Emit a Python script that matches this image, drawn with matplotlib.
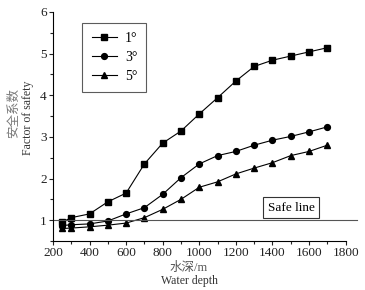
import matplotlib.pyplot as plt
from matplotlib.ticker import MultipleLocator

plt.rcParams['font.family'] = ['Liberation Serif', 'Noto Sans CJK SC']

depth = [250, 300, 400, 500, 600, 700, 800, 900, 1000, 1100, 1200, 1300, 1400, 1500, 1600, 1700]
fs_1 = [0.95, 1.06, 1.15, 1.44, 1.65, 2.35, 2.85, 3.14, 3.55, 3.94, 4.34, 4.69, 4.84, 4.94, 5.04, 5.14]
fs_3 = [0.87, 0.89, 0.91, 0.98, 1.15, 1.30, 1.62, 2.02, 2.35, 2.55, 2.65, 2.80, 2.92, 3.01, 3.12, 3.24]
fs_5 = [0.80, 0.81, 0.84, 0.88, 0.93, 1.06, 1.26, 1.50, 1.79, 1.92, 2.11, 2.25, 2.38, 2.55, 2.65, 2.80]
labels = ['1°', '3°', '5°']
safe_value = 1.0

fig = plt.figure(figsize=(3.65, 2.9), dpi=100)
ax = fig.add_axes([0.145, 0.169, 0.802, 0.79])

ax.plot(depth, fs_1, '-s', color='black', lw=0.8, ms=4.2, label=labels[0])
ax.plot(depth, fs_3, '-o', color='black', lw=0.8, ms=4.2, label=labels[1])
ax.plot(depth, fs_5, '-^', color='black', lw=0.8, ms=4.5, label=labels[2])
ax.plot([200, 1860], [safe_value, safe_value], color='#555555', lw=0.8, clip_on=False)

ax.text(1503, 1.30, 'Safe line', ha='center', va='center', fontsize=9.5,
        bbox=dict(boxstyle='square,pad=0.35', fc='white', ec='#333333', lw=0.8))

ax.set_xlim(200, 1800)
ax.set_ylim(0.5, 6)
ax.xaxis.set_major_locator(MultipleLocator(200))
ax.xaxis.set_minor_locator(MultipleLocator(100))
ax.yaxis.set_major_locator(MultipleLocator(1))
ax.yaxis.set_minor_locator(MultipleLocator(0.5))
ax.tick_params(which='major', length=3, width=0.8, labelsize=9.5, pad=1.5, colors='#222222')
ax.tick_params(which='minor', length=2, width=0.8, colors='#222222')
ax.spines['top'].set_visible(False)
ax.spines['right'].set_visible(False)

# axis titles: Chinese line in grey, English line darker
fig.text(0.039, 0.612, '安全系数', rotation=90, ha='center', va='center', fontsize=9, color='#777777')
fig.text(0.077, 0.595, 'Factor of safety', rotation=90, ha='center', va='center', fontsize=8.5, color='#333333')
fig.text(0.518, 0.077, '水深/m', ha='center', va='center', fontsize=9, color='#555555')
fig.text(0.518, 0.031, 'Water depth', ha='center', va='center', fontsize=8.5, color='#333333')

leg = ax.legend(loc='upper left', bbox_to_anchor=(0.101, 0.953), fontsize=10,
                fancybox=False, edgecolor='#333333', handlelength=1.8,
                handletextpad=0.6, borderpad=0.65, labelspacing=0.45,
                borderaxespad=0)
leg.get_frame().set_linewidth(0.8)

fig.savefig('out.png', dpi=100)
